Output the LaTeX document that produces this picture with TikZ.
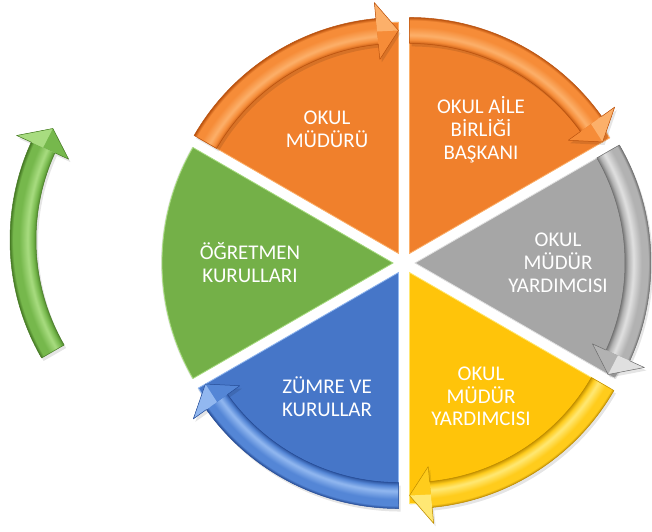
\documentclass[tikz,border=0pt]{standalone}
\usepackage{fontspec}
\setmainfont{Carlito}
\usetikzlibrary{calc}
\definecolor{orangeW}{RGB}{240,128,44}
\definecolor{orangeA}{RGB}{246,140,56}
\definecolor{orangeD}{RGB}{186,82,14}
\definecolor{orangeL}{RGB}{252,176,106}
\definecolor{grayW}{RGB}{166,166,166}
\definecolor{grayA}{RGB}{178,178,178}
\definecolor{grayD}{RGB}{110,110,110}
\definecolor{grayL}{RGB}{224,224,224}
\definecolor{yellowW}{RGB}{255,196,10}
\definecolor{yellowA}{RGB}{255,204,28}
\definecolor{yellowD}{RGB}{190,140,0}
\definecolor{yellowL}{RGB}{255,232,116}
\definecolor{blueW}{RGB}{70,118,200}
\definecolor{blueA}{RGB}{84,134,214}
\definecolor{blueD}{RGB}{38,76,150}
\definecolor{blueL}{RGB}{146,184,240}
\definecolor{greenW}{RGB}{116,176,72}
\definecolor{greenA}{RGB}{118,184,76}
\definecolor{greenD}{RGB}{70,122,36}
\definecolor{greenL}{RGB}{168,220,128}
% radii: r(bp) -> 25*r/260 bp
\newcommand\declband[1]{\pgfdeclareradialshading{band#1}{\pgfpoint{0bp}{0bp}}{%
  color(0bp)=(#1A);color(20.1bp)=(#1D);color(20.5bp)=(#1A);color(21.0bp)=(#1L);%
  color(21.8bp)=(#1A);color(22.4bp)=(#1A);color(22.7bp)=(#1D);color(25bp)=(#1D)}}
\declband{orange}\declband{gray}\declband{yellow}\declband{blue}\declband{green}
\tikzset{
  lbl/.style={text=white, align=center, font=\fontsize{21}{23}\selectfont, inner sep=0pt},
  wedgeshadow/.style={fill=black, opacity=0.10},
}
% #1 bisector angle, #2 colour prefix, #3 name, #4 text
\newcommand\segwedge[4]{%
  \coordinate (#3) at ($(C)+(#1:11)$);
  \fill[wedgeshadow, shift={(2,-3)}] (#3) -- ++({#1+30}:232) arc[start angle={#1+30}, end angle={#1-30}, radius=232] -- cycle;
  \fill[#2W, draw=#2L, line width=0.8bp] (#3) -- ++({#1+30}:231) arc[start angle={#1+30}, end angle={#1-30}, radius=231] -- cycle;
  \node[lbl] (#3t) at ($(C)+(#1:154)$) {#4};
}
% #1 apex coordinate, #2 start angle, #3 colour prefix
\newcommand\segarrow[3]{%
  \begin{scope}[shift={(#1)}]
    \fill[wedgeshadow, shift={(2,-3)}] ({#2}:236) arc[start angle={#2}, end angle={#2-54.5}, radius=236] -- ({#2-54.5}:252) -- ({#2-60}:223) -- ({#2-54.5}:195) -- ({#2-54.5}:210) arc[start angle={#2-54.5}, end angle={#2}, radius=210] -- cycle;
    \begin{scope}
      \clip ({#2}:236) arc[start angle={#2}, end angle={#2-54.5}, radius=236] -- ({#2-54.5}:210) arc[start angle={#2-54.5}, end angle={#2}, radius=210] -- cycle;
      \shade[shading=band#3] (0,0) circle[radius=260];
    \end{scope}
    \fill[#3A] ({#2-54.5}:252) -- ({#2-60}:223) -- ({#2-54.5}:195) -- cycle;
    \fill[#3L] ({#2-54.5}:252) -- ({#2-60}:223) -- ({#2-54.5}:223) -- cycle;
    \draw[#3D, line width=0.5bp, line join=round] ({#2}:236) arc[start angle={#2}, end angle={#2-54.5}, radius=236] -- ({#2-54.5}:252) -- ({#2-60}:223) -- ({#2-54.5}:195) -- ({#2-54.5}:210) arc[start angle={#2-54.5}, end angle={#2}, radius=210] -- cycle;
  \end{scope}
}
\begin{document}
\begin{tikzpicture}[x=1bp,y=1bp]
  \useasboundingbox (0,0) rectangle (652,532);
  \coordinate (C) at (404,269);
  \coordinate (gO) at (246,292);
  \segwedge{120}{orange}{oL}{OKUL\\MÜDÜRÜ}
  \segwedge{60}{orange}{oR}{OKUL AİLE\\BİRLİĞİ\\BAŞKANI}
  \segwedge{0}{gray}{gr}{OKUL\\MÜDÜR\\YARDIMCISI}
  \segwedge{-60}{yellow}{ye}{OKUL\\MÜDÜR\\YARDIMCISI}
  \segwedge{-120}{blue}{bl}{ZÜMRE VE\\KURULLAR}
  \segwedge{180}{green}{gn}{ÖĞRETMEN\\KURULLARI}
  \segarrow{oL}{150}{orange}
  \segarrow{oR}{90}{orange}
  \segarrow{gr}{30}{gray}
  \segarrow{ye}{-30}{yellow}
  \segarrow{bl}{-90}{blue}
  \segarrow{gO}{210}{green}
\end{tikzpicture}
\end{document}
